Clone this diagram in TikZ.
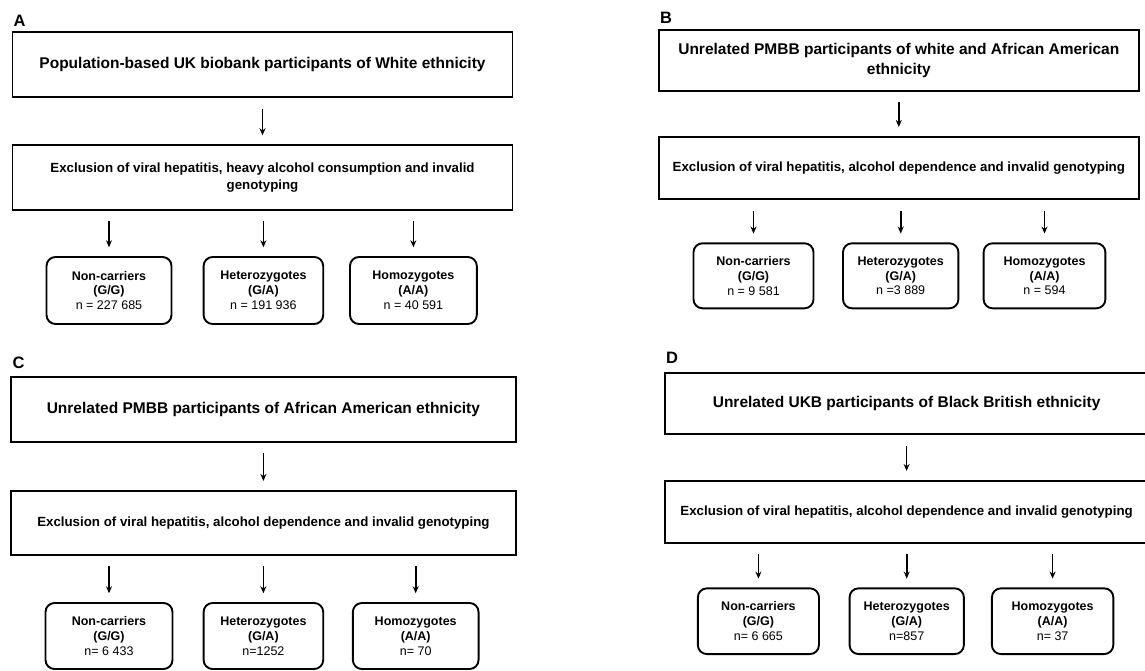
\documentclass[tikz,border=0pt]{standalone}
\usepackage{fontspec}
\setmainfont{Liberation Sans}
\usetikzlibrary{arrows.meta}
\tikzset{
  panelbox/.style={draw=black, line width=1.9pt, inner sep=0pt, align=center,
    font=\fontsize{15.5}{19.7}\selectfont\bfseries},
  exclbox/.style={panelbox, font=\fontsize{13.3}{16.7}\selectfont\bfseries},
  genobox/.style={draw=black, line width=1.9pt, rounded corners=9pt, inner sep=0pt,
    align=center, font=\fontsize{12.5}{14.8}\selectfont},
  paneltag/.style={inner sep=0pt, font=\fontsize{16.5}{18}\selectfont\bfseries},
  flowarrow/.style={line width=1.6pt, -{Stealth[length=7pt,width=6pt]},
    shorten <=10.5pt, shorten >=8.8pt}
}
\newcommand{\GenoArrows}[2]{% #1=exclusion box, #2=basename of genotype boxes
  \foreach \g in {a,b,c}{
    \draw[flowarrow] (#1.south -| #2\g.north) -- (#2\g.north);
  }
}

\begin{document}
\begin{tikzpicture}[x=1pt, y=-1pt]
    \useasboundingbox (0,0) rectangle (1145,671);

% ---- panel A
    \node[paneltag] (tagA) at (19.5,21) {A};
    \node[panelbox, minimum width=500pt, minimum height=65pt] (A1) at (262.5,64.8)
      {Population-based UK biobank participants of White ethnicity};
    \node[exclbox, minimum width=500pt, minimum height=65pt] (A2) at (262.5,177.5)
      {Exclusion of viral hepatitis, heavy alcohol consumption and invalid\\genotyping};
    \node[genobox, minimum width=125pt, minimum height=67pt] (A3a) at (109,290.5)
      {\textbf{Non-carriers}\\\textbf{(G/G)}\\n = 227 685};
    \node[genobox, minimum width=119.6pt, minimum height=67pt] (A3b) at (263.4,290.5)
      {\textbf{Heterozygotes}\\\textbf{(G/A)}\\n = 191 936};
    \node[genobox, minimum width=126.8pt, minimum height=67pt] (A3c) at (413.4,290.5)
      {\textbf{Homozygotes}\\\textbf{(A/A)}\\n = 40 591};
    \draw[flowarrow] (A1) -- (A2);
    \GenoArrows{A2}{A3}

% ---- panel B
    \node[paneltag] (tagB) at (666,18) {B};
    \node[panelbox, minimum width=479.6pt, minimum height=60.7pt] (B1) at (898.8,60.3)
      {Unrelated PMBB participants of white and African American\\ethnicity};
    \node[exclbox, minimum width=479.6pt, minimum height=62.6pt] (B2) at (898.8,168)
      {Exclusion of viral hepatitis, alcohol dependence and invalid genotyping};
    \node[genobox, minimum width=120pt, minimum height=65pt] (B3a) at (753.5,275.8)
      {\textbf{Non-carriers}\\\textbf{(G/G)}\\n = 9 581};
    \node[genobox, minimum width=115.4pt, minimum height=65pt] (B3b) at (900.7,275.8)
      {\textbf{Heterozygotes}\\\textbf{(G/A)}\\n =3 889};
    \node[genobox, minimum width=121.8pt, minimum height=65pt] (B3c) at (1044.5,275.8)
      {\textbf{Homozygotes}\\\textbf{(A/A)}\\n = 594};
    \draw[flowarrow] (B1) -- (B2);
    \GenoArrows{B2}{B3}

% ---- panel C
    \node[paneltag] (tagC) at (18.7,363) {C};
    \node[panelbox, minimum width=505.3pt, minimum height=64.3pt] (C1) at (263.4,409.5)
      {Unrelated PMBB participants of African American ethnicity};
    \node[exclbox, minimum width=505.3pt, minimum height=64.3pt] (C2) at (263.4,522.8)
      {Exclusion of viral hepatitis, alcohol dependence and invalid genotyping};
    \node[genobox, minimum width=127pt, minimum height=66pt] (C3a) at (109,636)
      {\textbf{Non-carriers}\\\textbf{(G/G)}\\n= 6 433};
    \node[genobox, minimum width=119.6pt, minimum height=66pt] (C3b) at (263.4,636)
      {\textbf{Heterozygotes}\\\textbf{(G/A)}\\n=1252};
    \node[genobox, minimum width=125.7pt, minimum height=66pt] (C3c) at (415.7,636)
      {\textbf{Homozygotes}\\\textbf{(A/A)}\\n= 70};
    \draw[flowarrow] (C1) -- (C2);
    \GenoArrows{C2}{C3}

% ---- panel D
    \node[paneltag] (tagD) at (672,358) {D};
    \node[panelbox, minimum width=483.8pt, minimum height=61.7pt] (D1) at (906.6,403.5)
      {Unrelated UKB participants of Black British ethnicity};
    \node[exclbox, minimum width=483.8pt, minimum height=62pt] (D2) at (906.6,511.7)
      {Exclusion of viral hepatitis, alcohol dependence and invalid genotyping};
    \node[genobox, minimum width=121.1pt, minimum height=65.7pt] (D3a) at (758.4,621.2)
      {\textbf{Non-carriers}\\\textbf{(G/G)}\\n= 6 665};
    \node[genobox, minimum width=114.3pt, minimum height=65.7pt] (D3b) at (906.7,621.2)
      {\textbf{Heterozygotes}\\\textbf{(G/A)}\\n=857};
    \node[genobox, minimum width=121.4pt, minimum height=65.7pt] (D3c) at (1052.6,621.2)
      {\textbf{Homozygotes}\\\textbf{(A/A)}\\n= 37};
    \draw[flowarrow] (D1) -- (D2);
    \GenoArrows{D2}{D3}
\end{tikzpicture}
\end{document}
